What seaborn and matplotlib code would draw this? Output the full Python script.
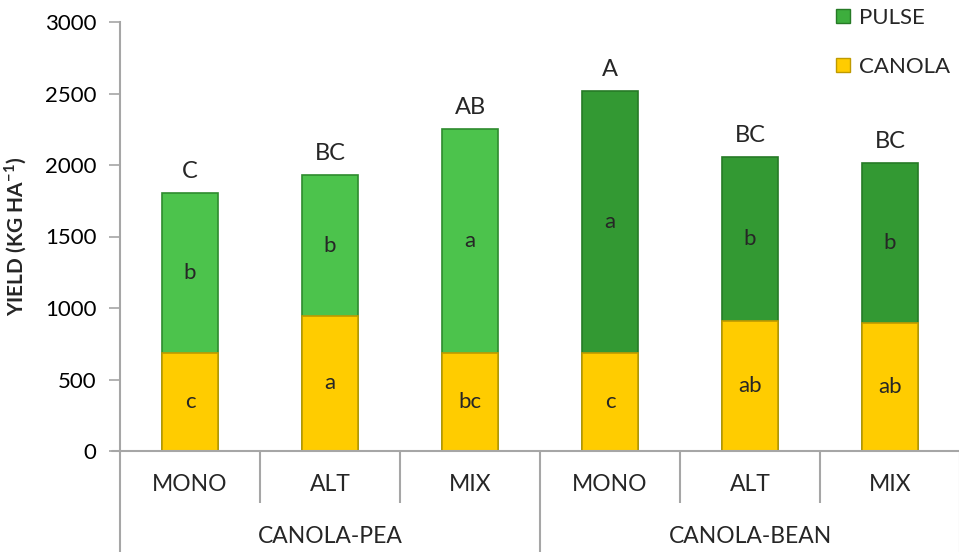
import matplotlib
matplotlib.use("Agg")
import matplotlib.pyplot as plt
from matplotlib.patches import Patch
import matplotlib.transforms as mtransforms
import numpy as np
import pandas as pd
import seaborn as sns

# Yield components (kg/ha) per cropping system and arrangement
groups = ["CANOLA-PEA", "CANOLA-BEAN"]
treatments = ["MONO", "ALT", "MIX"]
canola = [683, 946, 687, 685, 909, 893]
pulse = [1123, 982, 1567, 1835, 1145, 1123]
total_letters = ["C", "BC", "AB", "A", "BC", "BC"]
pulse_letters = ["b", "b", "a", "a", "b", "b"]
canola_letters = ["c", "a", "bc", "c", "ab", "ab"]
y_ticks = [0, 500, 1000, 1500, 2000, 2500, 3000]

CANOLA_C = "#FFCC00"
CANOLA_EDGE = "#BF9A00"
PULSE_C = {"CANOLA-PEA": "#4CC34C", "CANOLA-BEAN": "#339933"}
PULSE_EDGE = {"CANOLA-PEA": "#2E8B2E", "CANOLA-BEAN": "#267A26"}
GRID_GRAY = "#A6A6A6"

rows = []
for gi, g in enumerate(groups):
    for ti, t in enumerate(treatments):
        i = gi * len(treatments) + ti
        rows.append({"key": f"{g}|{t}", "group": g, "treatment": t,
                     "canola": canola[i], "pulse": pulse[i],
                     "total": canola[i] + pulse[i]})
df = pd.DataFrame(rows)
keys = list(df["key"])

sns.set_theme(style="white")
plt.rcParams["font.family"] = ["Lato", "DejaVu Sans"]
plt.rcParams["mathtext.fontset"] = "custom"
plt.rcParams["mathtext.rm"] = "Lato"
plt.rcParams["mathtext.bf"] = "Lato:bold"

fig = plt.figure(figsize=(9.59, 5.52), dpi=100)
ax = fig.add_axes([120 / 959, 101 / 552, 840 / 959, 429 / 552])

# Stacked bars: full height in pulse colour, canola drawn over the base
sns.barplot(data=df, x="key", y="total", hue="group", palette=PULSE_C,
            order=keys, hue_order=groups, dodge=False, width=0.4,
            saturation=1, legend=False, ax=ax, linewidth=1.2)
for p in ax.patches:
    fc = matplotlib.colors.to_hex(p.get_facecolor())
    for g, c in PULSE_C.items():
        if fc.lower() == c.lower():
            p.set_edgecolor(PULSE_EDGE[g])
sns.barplot(data=df, x="key", y="canola", color=CANOLA_C, order=keys,
            width=0.4, saturation=1, ax=ax, linewidth=1.2,
            edgecolor=CANOLA_EDGE)

ax.set_xlim(-0.5, len(keys) - 0.5)
ax.set_ylim(0, 3000)
ax.set_yticks(y_ticks)
ax.set_yticklabels([str(v) for v in y_ticks], fontsize=16, color="black")
ax.tick_params(axis="y", which="major", left=True, length=8, width=1.2,
               color=GRID_GRAY, pad=9)
ax.set_xticks([])
ax.set_xlabel("")
ax.set_ylabel(r"YIELD (KG HA$^{\mathbf{-1}}$)", fontsize=15,
              fontweight="bold", labelpad=0)
ax.yaxis.set_label_coords(-0.108, 0.5)

for side in ["top", "right"]:
    ax.spines[side].set_visible(False)
for side in ["left", "bottom"]:
    ax.spines[side].set_color(GRID_GRAY)
    ax.spines[side].set_linewidth(1.5)
ax.grid(False)

# Letters: totals above bars, component letters centred in segments
for i in range(len(keys)):
    tot = canola[i] + pulse[i]
    ax.annotate(total_letters[i], (i, tot), xytext=(0, 8),
                textcoords="offset points", ha="center", va="bottom",
                fontsize=17)
    ax.text(i, canola[i] + pulse[i] / 2, pulse_letters[i], ha="center",
            va="center", fontsize=16)
    ax.text(i, canola[i] / 2, canola_letters[i], ha="center", va="center",
            fontsize=16)

# Two-level category axis below the plot
trans = mtransforms.blended_transform_factory(ax.transData, ax.transAxes)
for i, k in enumerate(keys):
    ax.text(i, -0.079, df.loc[i, "treatment"], transform=trans,
            ha="center", va="center", fontsize=16.5)
for gi, g in enumerate(groups):
    ax.text(gi * 3 + 1, -0.2, g, transform=trans, ha="center",
            va="center", fontsize=16.5)

n = len(keys)
for b in np.arange(-0.5, n + 0.5, 1.0):
    major = (abs((b + 0.5) % 3) < 1e-9)
    y_end = -0.236 if major else -0.121
    ax.plot([b, b], [0, y_end], transform=trans, color=GRID_GRAY,
            lw=1.5, clip_on=False, solid_capstyle="butt")
# left tick at zero extends past the axis
ax.plot([-0.5 - 8 / 140, -0.5], [0, 0], transform=trans, color=GRID_GRAY,
        lw=1.5, clip_on=False)

handles = [Patch(facecolor="#3DAE3D", edgecolor="#267A26", label="PULSE"),
           Patch(facecolor=CANOLA_C, edgecolor=CANOLA_EDGE, label="CANOLA")]
fig.legend(handles=handles, loc="upper left",
           bbox_to_anchor=(836 / 959, 1 - 8 / 552), frameon=False,
           fontsize=16, handlelength=0.62, handleheight=0.62,
           handletextpad=0.4, labelspacing=1.3, borderpad=0,
           borderaxespad=0)

fig.savefig("out.png", dpi=100)
